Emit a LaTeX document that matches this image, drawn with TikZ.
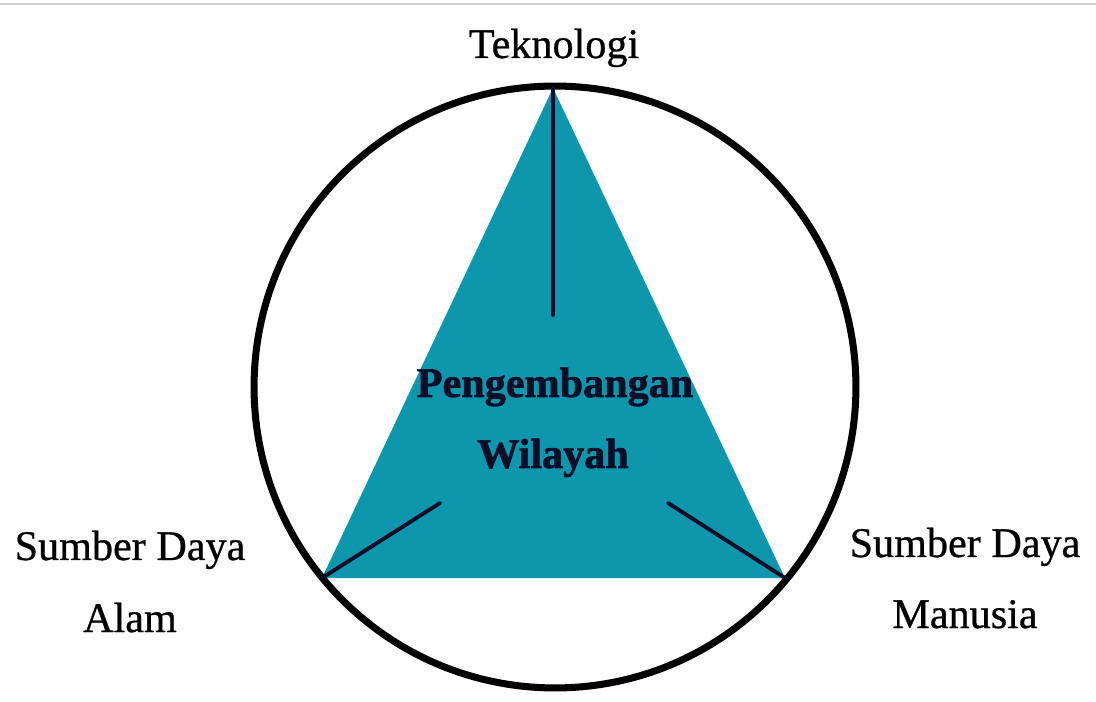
\documentclass[tikz,border=0pt]{standalone}
\usepackage{fontspec}
\setmainfont{Liberation Serif}
\newfontfamily\labelfont[FakeBold=0.7]{Liberation Serif}
\newfontfamily\pusatfont[FakeBold=1.6]{Liberation Serif Bold}
\usepackage{tikz}
\usetikzlibrary{positioning}
\definecolor{tosca}{RGB}{14,150,172}
\definecolor{navy}{RGB}{6,14,40}
\tikzset{
  label_n/.style = {font=\labelfont\fontsize{24}{28}\selectfont, inner sep=0pt,
    anchor=base},% label luar
  pusat_n/.style = {font=\pusatfont\fontsize{24}{28}\selectfont, text=navy,
    inner sep=0pt, anchor=base},% teks tengah
  garis_n/.style = {draw=navy, line width=2.2pt, line cap=round},% garis dalam
  ring_n/.style = {circle, draw=black, line width=4pt, inner sep=0pt,
    minimum size=12.04cm}% lingkaran luar
}

\begin{document}
\begin{tikzpicture}[x=0.02cm, y=-0.02cm]
        \useasboundingbox (0,0) rectangle (1096,702);
        \draw[gray!35, line width=0.8pt] (0,4) -- (1096,4);

        \coordinate (T) at (553,88);
        \coordinate (L) at (322,578);
        \coordinate (R) at (785,578);
        \coordinate (Tin) at (553,315);
        \coordinate (Lin) at (440,503);
        \coordinate (Rin) at (668,503);

        \fill[tosca] (T) -- (L) -- (R) -- cycle;
        \node [ring_n] (ring) at (555,387) {};

        \draw [garis_n] (T) -- (Tin);
        \draw [garis_n] (L) -- (Lin);
        \draw [garis_n] (R) -- (Rin);

        \node [pusat_n] (peng) at (555,397) {Pengembangan};
        \node [pusat_n] (wil) at (553,468) {Wilayah};

        \node [label_n] (tek) at (554,58) {Teknologi};
        \node [label_n] (sdaL) at (130,560) {Sumber Daya};
        \node [label_n] (alam) at (130,632) {Alam};
        \node [label_n] (sdaR) at (965,557) {Sumber Daya};
        \node [label_n] (man) at (965,628) {Manusia};

        \end{tikzpicture}
\end{document}
